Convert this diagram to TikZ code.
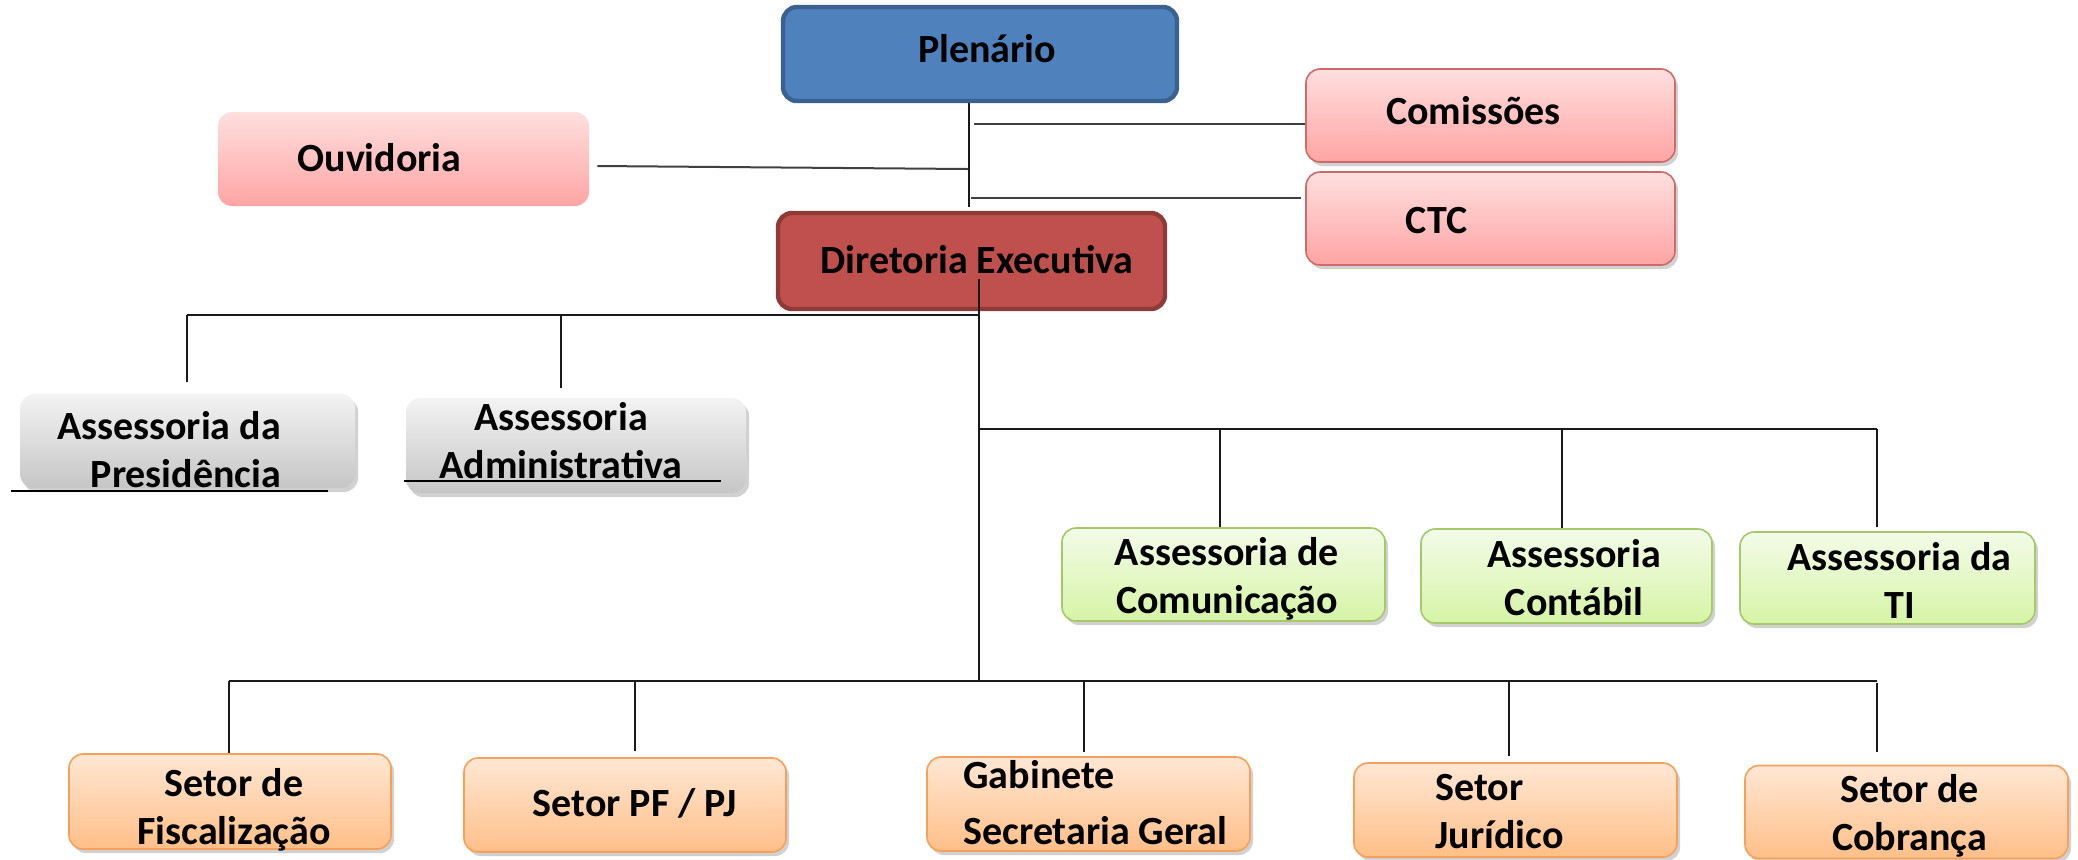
\documentclass[tikz,border=0pt]{standalone}
\usepackage{fontspec}
\setmainfont{Carlito}
\usetikzlibrary{shadows}
\definecolor{plenfill}{HTML}{4F81BD}
\definecolor{plendraw}{HTML}{3B6190}
\definecolor{dirfill}{HTML}{C0504D}
\definecolor{dirdraw}{HTML}{8E3A38}
\definecolor{pinktop}{HTML}{FFDFDF}
\definecolor{pinkbot}{HTML}{FFA4A4}
\definecolor{pinkdraw}{HTML}{D06A6A}
\definecolor{graytop}{HTML}{F3F3F3}
\definecolor{graybot}{HTML}{C6C6C6}
\definecolor{greentop}{HTML}{F3FBE8}
\definecolor{greenbot}{HTML}{D6F4A6}
\definecolor{greendraw}{HTML}{A4C86A}
\definecolor{orangetop}{HTML}{FFE7D4}
\definecolor{orangebot}{HTML}{FFBF88}
\definecolor{orangedraw}{HTML}{F7A05A}
\definecolor{linecol}{HTML}{1A1A1A}
\begin{document}
\begin{tikzpicture}[x=0.5pt,y=-0.5pt,
  box/.style={rectangle, rounded corners=7pt, inner sep=0pt},
  lbl/.style={font=\bfseries\fontsize{20}{24}\selectfont, align=center, inner sep=0pt},
  softshadow/.style={drop shadow={shadow xshift=1.5pt, shadow yshift=-2pt, opacity=0.3, fill=black!60}},
  plenbox/.style={box, fill=plenfill, draw=plendraw, line width=2.2pt},
  dirbox/.style={box, fill=dirfill, draw=dirdraw, line width=2.2pt},
  pinkbox/.style={box, top color=pinktop, bottom color=pinkbot},
  pinkframe/.style={pinkbox, draw=pinkdraw, line width=0.8pt, softshadow},
  graybox/.style={box, top color=graytop, bottom color=graybot, softshadow},
  greenbox/.style={box, top color=greentop, bottom color=greenbot, draw=greendraw, line width=0.8pt, softshadow},
  orangebox/.style={box, top color=orangetop, bottom color=orangebot, draw=orangedraw, line width=0.8pt, softshadow},
  hconn/.style={draw=linecol, line width=1pt},
  vconn/.style={draw=linecol, line width=0.7pt},
  uline/.style={draw=black, line width=1.4pt},
]
\useasboundingbox (0,0) rectangle (2078,859);

% ---- top level
\node[plenbox, minimum width=197pt, minimum height=47pt,
  label={[lbl,xshift=3.5pt,yshift=2.5pt]center:Plenário}] (plen) at (980,54) {};
\node[pinkbox, minimum width=185.5pt, minimum height=47pt,
  label={[lbl,xshift=-12pt,yshift=0.5pt]center:Ouvidoria}] (ouv) at (403.5,159) {};
\node[pinkframe, minimum width=184.5pt, minimum height=46.5pt,
  label={[lbl,xshift=-8.5pt,yshift=2.25pt]center:Comissões}] (com) at (1490.5,115.5) {};
\node[pinkframe, minimum width=184.5pt, minimum height=46.5pt,
  label={[lbl,xshift=-27pt,yshift=-1.25pt]center:CTC}] (ctc) at (1490.5,218.5) {};
\node[dirbox, minimum width=193.5pt, minimum height=48pt,
  label={[lbl,xshift=2.75pt,yshift=0.5pt]center:Diretoria Executiva}] (dir) at (971.5,261) {};

% ---- gray assessorias
\node[graybox, minimum width=167.5pt, minimum height=47pt,
  label={[lbl,xshift=-0.75pt,yshift=-4.25pt]center:Assessoria da\hspace*{17pt}\\Presidência}] (ap) at (187.5,441) {};
\node[graybox, minimum width=170pt, minimum height=47.5pt,
  label={[lbl,xshift=-7.5pt,yshift=2.25pt]center:Assessoria\\Administrativa}] (aa) at (576,445.5) {};

% ---- green assessorias
\node[greenbox, minimum width=161.5pt, minimum height=46.5pt,
  label={[lbl,xshift=1.75pt,yshift=-2.25pt]center:Assessoria de\\Comunicação}] (acom) at (1223.5,574.5) {};
\node[greenbox, minimum width=145.5pt, minimum height=47pt,
  label={[lbl,xshift=3.75pt,yshift=-1pt]center:Assessoria\\Contábil}] (acont) at (1566.5,576) {};
\node[greenbox, minimum width=147.5pt, minimum height=46pt,
  label={[lbl,xshift=6pt,yshift=-1pt]center:Assessoria da\\TI}] (ati) at (1887.5,578) {};

% ---- orange setores
\node[orangebox, minimum width=161pt, minimum height=47.5pt,
  label={[lbl,xshift=2pt,yshift=-4pt]center:Setor de\\Fiscalização}] (sfis) at (230,801.5) {};
\node[orangebox, minimum width=161pt, minimum height=47pt,
  label={[lbl,xshift=5pt,yshift=1pt]center:Setor PF / PJ}] (spf) at (625,805) {};
\node[orangebox, minimum width=161.5pt, minimum height=47pt,
  label={[lbl,align=left,xshift=3.5pt,yshift=0.5pt]center:Gabinete\\[4pt]Secretaria Geral}] (gab) at (1088.5,804) {};
\node[orangebox, minimum width=161.5pt, minimum height=47pt,
  label={[lbl,align=left,xshift=-8pt,yshift=-1pt]center:Setor\\Jurídico}] (sjur) at (1515.5,810) {};
\node[orangebox, minimum width=161.5pt, minimum height=46.5pt,
  label={[lbl,xshift=1.5pt,yshift=-2pt]center:Setor de\\Cobrança}] (scob) at (1906.5,812) {};

% ---- connectors from Plenário
\coordinate (pv) at (969,207);
\draw[vconn] (plen.south -| pv) -- (pv);
\coordinate (cj) at (974,124);
\draw[hconn, draw=black!75] (cj) -- (cj -| com.west);
\coordinate (tj) at (971,198);
\draw[hconn, draw=black!75] (tj) -- ([xshift=-2pt]tj -| ctc.west);
\coordinate (oj) at (968,169);
\draw[hconn, draw=black!75] ([shift={(4pt,-3.5pt)}]ouv.east) -- (oj);

% ---- trunk from Diretoria
\coordinate (dtop) at (979,279);
\coordinate (dbot) at (979,681);
\draw[vconn] (dtop) -- (dbot);

% bus 1 (gray)
\coordinate (b1r) at (979,315);
\coordinate (b1a) at (187,315);
\coordinate (b1b) at (561,315);
\draw[hconn] (b1a) -- (b1r);
\draw[vconn] (b1a) -- ([yshift=6pt]b1a |- ap.north);
\draw[vconn] (b1b) -- ([yshift=5pt]b1b |- aa.north);

% bus 2 (green)
\coordinate (b2l) at (979,429);
\coordinate (b2a) at (1220,429);
\coordinate (b2b) at (1562,429);
\coordinate (b2c) at (1877,429);
\draw[hconn] (b2l) -- (b2c);
\draw[vconn] (b2a) -- (b2a |- acom.north);
\draw[vconn] (b2b) -- (b2b |- acont.north);
\draw[vconn] (b2c) -- ([yshift=2pt]b2c |- ati.north);

% bus 3 (orange)
\coordinate (b3a) at (229,681);
\coordinate (b3b) at (635,681);
\coordinate (b3c) at (1084,681);
\coordinate (b3d) at (1509,681);
\coordinate (b3e) at (1877,681);
\draw[hconn] (b3a) -- (b3e);
\draw[vconn] (b3a) -- (b3a |- sfis.north);
\draw[vconn] (b3b) -- ([yshift=3pt]b3b |- spf.north);
\draw[vconn] (b3c) -- ([yshift=2pt]b3c |- gab.north);
\draw[vconn] (b3d) -- ([yshift=3pt]b3d |- sjur.north);
\draw[vconn] ([yshift=-1pt]b3e) -- ([yshift=6.5pt]b3e |- scob.north);

% ---- stray underline strokes
\coordinate (u1a) at (11,491); \coordinate (u1b) at (328,491);
\draw[uline] (u1a) -- (u1b);
\coordinate (u2a) at (404,481); \coordinate (u2b) at (721,481);
\draw[uline] (u2a) -- (u2b);
\end{tikzpicture}
\end{document}
